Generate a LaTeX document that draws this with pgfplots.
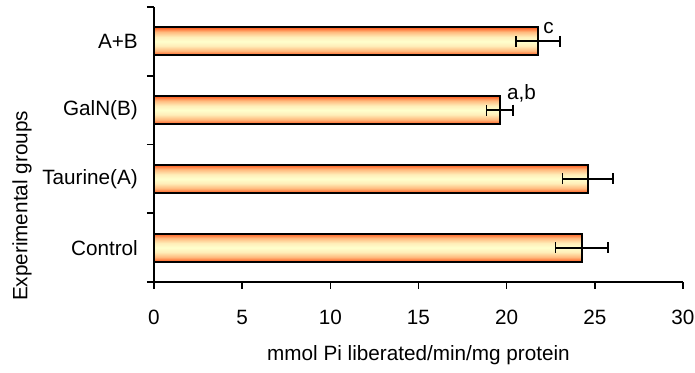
\documentclass[border=0pt]{standalone}
\usepackage{fontspec}
\setmainfont{Liberation Sans}
\usepackage{pgfplots}
\pgfplotsset{compat=1.18}
\definecolor{edgeC}{RGB}{255,90,25}
\definecolor{orC}{RGB}{255,125,65}
\definecolor{peachC}{RGB}{255,185,125}
\definecolor{paleC}{RGB}{255,238,185}
\definecolor{centerC}{RGB}{255,255,205}
\pgfdeclareverticalshading{barshade}{100bp}{color(0bp)=(edgeC); color(25bp)=(edgeC); color(28bp)=(orC); color(33bp)=(peachC); color(42bp)=(paleC); color(50bp)=(centerC); color(58bp)=(paleC); color(67bp)=(peachC); color(72bp)=(orC); color(75bp)=(edgeC); color(100bp)=(edgeC)}
\newcommand{\chartfont}{\fontsize{10.35}{12}\selectfont}

\pgfplotsset{
  mybar/.style={xbar, bar width=14pt, draw=black, line width=0.95pt, shading=barshade,
    error bars/.cd, x dir=both, x explicit,
    error bar style={line width=0.9pt, black},
    error mark=|,
    error mark options={line width=0.9pt, mark size=2.75pt, black}},
}

\begin{document}
\begin{tikzpicture}
\begin{axis}[
  name=ax,
  width=264.5pt, height=137.5pt, scale only axis,
  xmin=0, xmax=30, ymin=-0.5, ymax=3.5,
  axis lines*=left,
  axis line style={line width=0.8pt, black},
  xtick={0,5,...,30},
  ytick={0,1,2,3},
  yticklabels={Control,Taurine(A),GalN(B),A+B},
  minor ytick={-0.5,0.5,1.5,2.5,3.5},
  tick align=outside,
  major tick length=3.5pt, minor tick length=3.5pt,
  tick style={line width=0.8pt, black},
  major y tick style={draw=none},
  /pgf/number format/assume math mode=true,
  tick label style={font=\chartfont},
  xticklabel style={anchor=base, yshift=-18pt},
  yticklabel style={anchor=east, inner sep=0pt, xshift=-4.4pt},
  xlabel={mmol Pi liberated/min/mg protein},
  every axis x label/.style={at={(rel axis cs:0.5,-0.286)}, anchor=base, font=\chartfont},
  ylabel={Experimental groups},
  every axis y label/.style={at={(rel axis cs:-0.2395,0.2764)}, rotate=90, anchor=base, font=\chartfont},
  clip=false,
]
\addplot[mybar] coordinates {(24.26,0) +- (1.49,0)};
\addplot[mybar] coordinates {(24.60,1) +- (1.43,0)};
\addplot[mybar] coordinates {(19.61,2) +- (0.75,0)};
\addplot[mybar] coordinates {(21.76,3) +- (1.25,0)};
\node[anchor=base west, inner sep=0pt, font=\chartfont] at (axis cs:22.06,3.117) {c};
\node[anchor=base west, inner sep=0pt, font=\chartfont] at (axis cs:20.0,2.157) {a,b};
\end{axis}
\pgfresetboundingbox
\path ([shift={(-77pt,-45.5pt)}]ax.south west) rectangle ([shift={(6pt,3.5pt)}]ax.north east);
\end{tikzpicture}
\end{document}
